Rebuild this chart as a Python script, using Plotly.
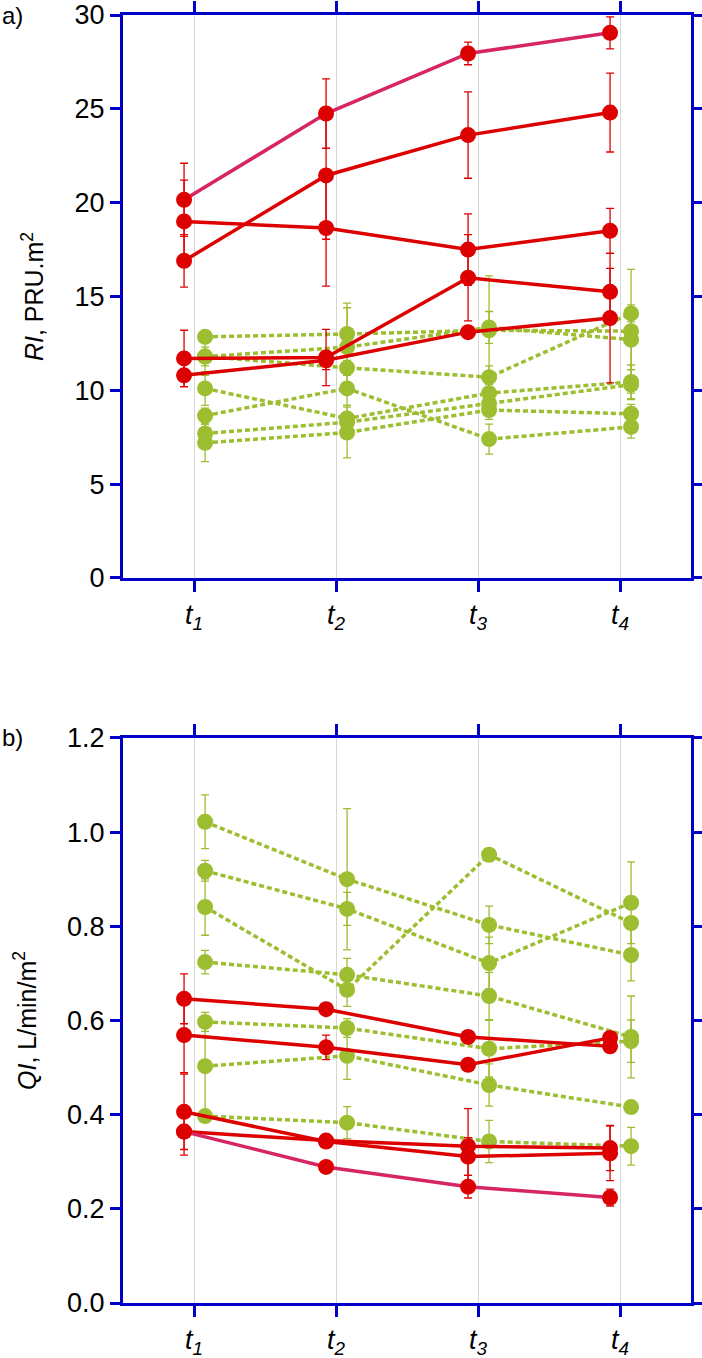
import plotly.graph_objects as go

times = [1, 2, 3, 4]
tick_text = ["<i>t</i><sub><i>1</i></sub>", "<i>t</i><sub><i>2</i></sub>",
             "<i>t</i><sub><i>3</i></sub>", "<i>t</i><sub><i>4</i></sub>"]

# panel a) RI, PRU.m2
ri_magenta = [20.15, 24.75, 27.95, 29.05]
ri_magenta_err = [1.95, 1.85, 0.6, 0.85]
ri_red = [
    [16.9, 21.45, 23.6, 24.8],
    [19.0, 18.65, 17.5, 18.5],
    [11.7, 11.75, 16.0, 15.25],
    [10.8, 11.6, 13.1, 13.85],
]
ri_red_err = [
    [1.4, 3.4, 2.3, 2.1],
    [2.2, 3.1, 1.9, 1.2],
    [1.5, 1.5, 2.3, 1.25],
    [0.6, 0.5, 0.3, 3.45],
]
ri_green = [
    [12.85, 13.0, 13.2, 13.15],
    [11.8, 12.3, 13.35, 12.7],
    [11.8, 11.2, 10.7, 14.1],
    [10.1, 8.5, 9.85, 10.45],
    [8.65, 10.1, 7.4, 8.05],
    [7.7, 8.3, 9.3, 10.3],
    [7.2, 7.75, 8.95, 8.75],
]
ri_green_err = [
    [0.3, 1.65, 2.9, 3.3],
    [1.0, 2.1, 0.85, 1.6],
    [0.5, 0.4, 0.6, 0.45],
    [0.9, 0.7, 0.5, 0.9],
    [0.4, 0.9, 0.8, 0.6],
    [0.5, 0.5, 0.4, 0.8],
    [1.0, 1.35, 0.5, 0.5],
]

# panel b) QI, L/min/m2
qi_magenta = [0.364, 0.289, 0.247, 0.224]
qi_magenta_err = [0.01, 0.008, 0.024, 0.018]
qi_red = [
    [0.646, 0.624, 0.565, 0.545],
    [0.569, 0.543, 0.506, 0.563],
    [0.406, 0.343, 0.311, 0.318],
    [0.364, 0.345, 0.333, 0.329],
]
qi_red_err = [
    [0.053, 0.008, 0.01, 0.012],
    [0.08, 0.026, 0.01, 0.012],
    [0.08, 0.008, 0.04, 0.058],
    [0.05, 0.008, 0.08, 0.048],
]
qi_green = [
    [1.022, 0.900, 0.803, 0.739],
    [0.918, 0.837, 0.722, 0.850],
    [0.841, 0.665, 0.952, 0.807],
    [0.724, 0.697, 0.652, 0.565],
    [0.597, 0.584, 0.540, 0.556],
    [0.503, 0.525, 0.463, 0.416],
    [0.397, 0.383, 0.343, 0.333],
]
qi_green_err = [
    [0.057, 0.15, 0.04, 0.055],
    [0.022, 0.035, 0.055, 0.087],
    [0.06, 0.035, 0.008, 0.01],
    [0.025, 0.035, 0.05, 0.087],
    [0.02, 0.02, 0.06, 0.045],
    [0.1, 0.05, 0.045, 0.01],
    [0.01, 0.034, 0.045, 0.04],
]

RED = "rgb(221,0,0)"
MAGENTA = "rgb(214,36,100)"
GREEN = "rgb(157,190,48)"
BLUE = "rgb(0,0,200)"
FONT = "Liberation Sans, Arial, sans-serif"

fig = go.Figure()


def add_series(y, err, line_color, dashed, offset, axis):
    xs = [t + offset for t in times]
    col = GREEN if dashed else RED
    fig.add_trace(go.Scatter(
        x=xs, y=y, mode="lines+markers",
        line=dict(color=line_color, width=3.5, dash="5px,3px" if dashed else "solid"),
        marker=dict(color=col, size=16),
        error_y=dict(type="data", array=err, color=col, thickness=1.3, width=4),
        xaxis="x" if axis == 1 else "x2",
        yaxis="y" if axis == 1 else "y2",
        showlegend=False,
    ))


for y, e in zip(ri_green, ri_green_err):
    add_series(y, e, GREEN, True, 0.078, 1)
for y, e in zip(ri_red, ri_red_err):
    add_series(y, e, RED, False, -0.07, 1)
add_series(ri_magenta, ri_magenta_err, MAGENTA, False, -0.07, 1)

for y, e in zip(qi_green, qi_green_err):
    add_series(y, e, GREEN, True, 0.078, 2)
for y, e in zip(qi_red, qi_red_err):
    add_series(y, e, RED, False, -0.07, 2)
add_series(qi_magenta, qi_magenta_err, MAGENTA, False, -0.07, 2)

xaxis_style = dict(
    range=[0.5, 4.5], tickvals=times, ticktext=tick_text, automargin=False,
    showline=True, linecolor=BLUE, linewidth=3, mirror="ticks",
    ticks="outside", ticklen=11, tickwidth=3, tickcolor=BLUE,
    showgrid=True, gridcolor="rgb(215,215,215)", gridwidth=1,
    zeroline=False, tickfont=dict(family=FONT, size=27, color="black"),
)
yaxis_style = dict(
    showline=True, linecolor=BLUE, linewidth=3, mirror="ticks", automargin=False,
    ticks="outside", ticklen=10, tickwidth=3, tickcolor=BLUE,
    showgrid=False, zeroline=False,
    tickfont=dict(family=FONT, size=27, color="black"),
)

fig.update_layout(
    width=702, height=1358,
    margin=dict(l=123, r=11, t=15, b=55),
    plot_bgcolor="white", paper_bgcolor="white",
    font=dict(family=FONT, color="black"),
    xaxis=dict(xaxis_style, domain=[0, 1], anchor="y"),
    yaxis=dict(yaxis_style, domain=[0.5629, 1], range=[0, 30], dtick=5,
               title=dict(text="<i>RI</i>, PRU.m<sup>2</sup>",
                          font=dict(family=FONT, size=25), standoff=24)),
    xaxis2=dict(xaxis_style, domain=[0, 1], anchor="y2"),
    yaxis2=dict(yaxis_style, domain=[0, 0.4387], range=[0, 1.2], dtick=0.2, tickformat=".1f",
                title=dict(text="<i>QI</i>, L/min/m<sup>2</sup>",
                           font=dict(family=FONT, size=25), standoff=24)),
    annotations=[
        dict(text="a)", x=-123 / 568, y=1.0, xref="paper", yref="paper", showarrow=False,
             xanchor="left", yanchor="middle", font=dict(family=FONT, size=24)),
        dict(text="b)", x=-123 / 568, y=0.4387, xref="paper", yref="paper", showarrow=False,
             xanchor="left", yanchor="middle", font=dict(family=FONT, size=24)),
    ],
)

# drop the browser's default page margin so the figure fills the window
fig.write_html("out.html", config={"displayModeBar": False},
               post_script="document.body.style.margin='0';")
